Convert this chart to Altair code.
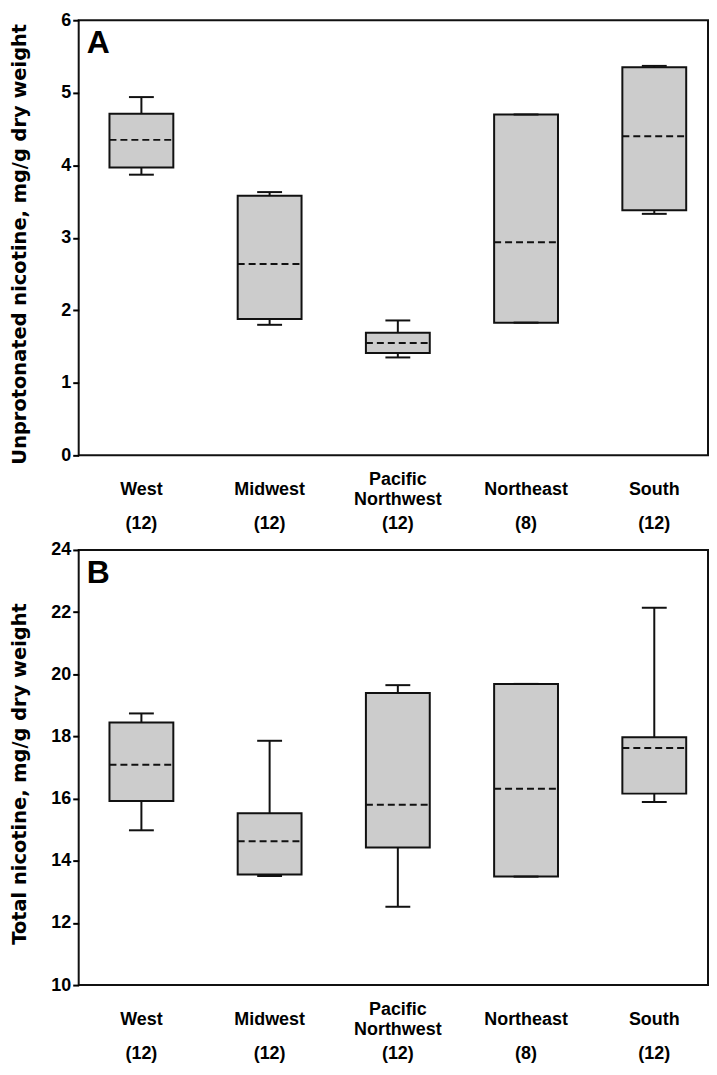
import altair as alt
import pandas as pd

regions = ["West", "Midwest", "Pacific Northwest", "Northeast", "South"]
counts = [12, 12, 12, 8, 12]

# Panel A: unprotonated nicotine (mg/g dry weight)
a_min = [3.87, 1.80, 1.35, 1.83, 3.33]
a_q1 = [3.97, 1.88, 1.41, 1.83, 3.38]
a_med = [4.35, 2.64, 1.55, 2.94, 4.40]
a_q3 = [4.71, 3.58, 1.69, 4.70, 5.35]
a_max = [4.94, 3.63, 1.86, 4.70, 5.37]
a_ticks = [0, 1, 2, 3, 4, 5, 6]

# Panel B: total nicotine (mg/g dry weight)
b_min = [14.98, 13.51, 12.52, 13.49, 15.89]
b_q1 = [15.92, 13.56, 14.43, 13.49, 16.16]
b_med = [17.09, 14.63, 15.80, 16.32, 17.63]
b_q3 = [18.45, 15.53, 19.40, 19.69, 17.97]
b_max = [18.74, 17.86, 19.65, 19.69, 22.14]
b_ticks = [10, 12, 14, 16, 18, 20, 22, 24]

W, H = 632, 437
BOX_HALF = 0.249
CAP_HALF = 0.097
X_DOMAIN = [0.511, 5.419]
INK = "#111111"
FONT = "Liberation Sans"
NAME_DY = 35
COUNT_DY = 69
LINE_H = 20

positions = list(range(1, len(regions) + 1))


def panel(letter, mins, q1s, meds, q3s, maxs, ticks, ytitle):
    df = pd.DataFrame({
        "pos": positions,
        "name": [r.replace(" ", "\n") for r in regions],
        "nlines": [len(r.split()) for r in regions],
        "nlab": [f"({n})" for n in counts],
        "vmin": mins, "q1": q1s, "med": meds, "q3": q3s, "vmax": maxs,
    })
    base = alt.Chart(df).transform_calculate(
        left=f"datum.pos - {BOX_HALF}", right=f"datum.pos + {BOX_HALF}",
        capl=f"datum.pos - {CAP_HALF}", capr=f"datum.pos + {CAP_HALF}",
    )
    xs = alt.Scale(domain=X_DOMAIN, nice=False, zero=False)
    ys = alt.Scale(domain=[ticks[0], ticks[-1]], nice=False, zero=False)
    yaxis = alt.Axis(values=ticks, format="d", title=ytitle, grid=False, domain=False,
                     tickSize=6, tickWidth=2, tickColor="black",
                     labelPadding=2, labelFontSize=18, labelFont=FONT,
                     labelFontWeight="bold", labelColor="black", labelFlush=False,
                     titleX=-49, titleY=H / 2 + 6, titleAngle=270, titleAlign="center",
                     titleBaseline="bottom", titleFont="DejaVu Sans", titleFontSize=19.5,
                     titleFontWeight="bold", titleColor="black")

    def X(f):
        return alt.X(f"{f}:Q", scale=xs, axis=None)

    def Y(f):
        return alt.Y(f"{f}:Q", scale=ys, axis=yaxis)

    box = base.mark_rect(fill="#cccccc", stroke=INK, strokeWidth=2).encode(
        x=X("left"), x2="right:Q", y=Y("q1"), y2="q3:Q")
    med = base.mark_rule(strokeDash=[7, 4], strokeWidth=2, color=INK).encode(
        x=X("left"), x2="right:Q", y=Y("med"))
    whi = base.mark_rule(strokeWidth=2, color=INK).encode(
        x=X("pos"), y=Y("q3"), y2="vmax:Q")
    wlo = base.mark_rule(strokeWidth=2, color=INK).encode(
        x=X("pos"), y=Y("vmin"), y2="q1:Q")
    chi = base.mark_rule(strokeWidth=2, color=INK).encode(
        x=X("capl"), x2="capr:Q", y=Y("vmax"))
    clo = base.mark_rule(strokeWidth=2, color=INK).encode(
        x=X("capl"), x2="capr:Q", y=Y("vmin"))

    txt = dict(baseline="middle", align="center", lineBreak="\n", lineHeight=LINE_H,
               fontSize=18, fontWeight="bold", font=FONT, color="black")
    ybot = alt.Y(datum=ticks[0], scale=ys)
    names1 = base.transform_filter("datum.nlines == 1").mark_text(
        dy=NAME_DY, **txt).encode(x=X("pos"), y=ybot, text="name:N")
    names2 = base.transform_filter("datum.nlines == 2").mark_text(
        dy=NAME_DY - LINE_H / 2, **txt).encode(x=X("pos"), y=ybot, text="name:N")
    nlabs = base.mark_text(dy=COUNT_DY, **txt).encode(
        x=X("pos"), y=ybot, text="nlab:N")

    letter_df = pd.DataFrame({"letter": [letter]})
    let = alt.Chart(letter_df).mark_text(
        align="left", baseline="alphabetic", dx=8, dy=33, fontSize=32,
        fontWeight="bold", font=FONT, color="black").encode(
        x=alt.X(datum=X_DOMAIN[0], scale=xs), y=alt.Y(datum=ticks[-1], scale=ys),
        text="letter:N")

    return alt.layer(box, med, whi, wlo, chi, clo, names1, names2, nlabs, let).properties(
        width=W, height=H)


pA = panel("A", a_min, a_q1, a_med, a_q3, a_max, a_ticks,
           "Unprotonated nicotine, mg/g dry weight")
pB = panel("B", b_min, b_q1, b_med, b_q3, b_max, b_ticks,
           "Total nicotine, mg/g dry weight")

chart = alt.vconcat(pA, pB, spacing=95, bounds="flush").properties(
    padding=0, background="white"
).configure(
    font=FONT,
    view=alt.ViewConfig(stroke=INK, strokeWidth=2),
)

chart.save("out.html", embed_options={"renderer": "svg", "actions": False})
